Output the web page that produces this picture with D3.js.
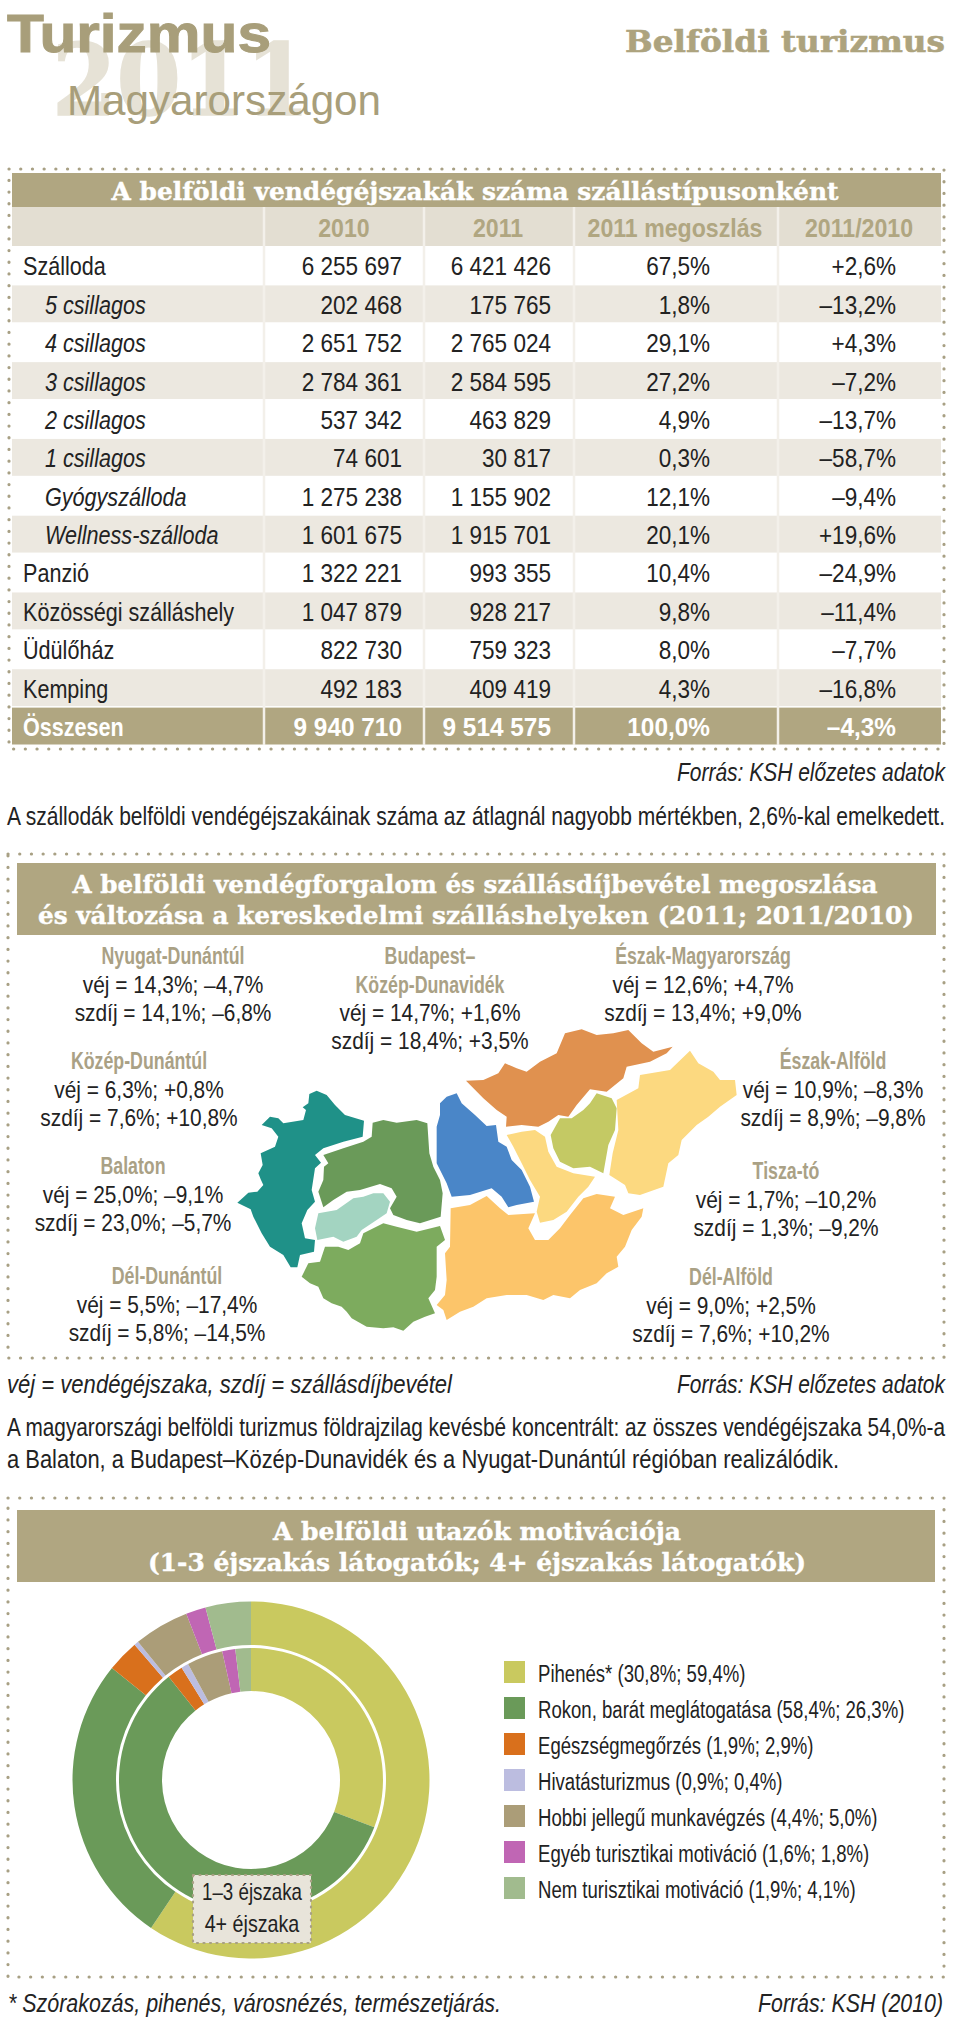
<!DOCTYPE html>
<html>
<head>
<meta charset="utf-8">
<script src="https://cdn.jsdelivr.net/npm/d3@7/dist/d3.min.js"></script>
<style>
  html, body { margin: 0; padding: 0; background: #fff; }
  svg { display: block; }
  text { font-family: "Liberation Sans", sans-serif; }
  .slab { font-family: "DejaVu Serif", serif; font-weight: bold; }
</style>
</head>
<body>
<div id="chart"></div>
<script>
// Table data
const rowLabels = ["Szálloda", "5 csillagos", "4 csillagos", "3 csillagos", "2 csillagos", "1 csillagos", "Gyógyszálloda", "Wellness-szálloda", "Panzió", "Közösségi szálláshely", "Üdülőház", "Kemping", "Összesen"];
const italicRows = ["5 csillagos", "4 csillagos", "3 csillagos", "2 csillagos", "1 csillagos", "Gyógyszálloda", "Wellness-szálloda"];
const columnHeads = ["2010", "2011", "2011 megoszlás", "2011/2010"];
const nights2010 = ["6 255 697", "202 468", "2 651 752", "2 784 361", "537 342", "74 601", "1 275 238", "1 601 675", "1 322 221", "1 047 879", "822 730", "492 183", "9 940 710"];
const nights2011 = ["6 421 426", "175 765", "2 765 024", "2 584 595", "463 829", "30 817", "1 155 902", "1 915 701", "993 355", "928 217", "759 323", "409 419", "9 514 575"];
const share2011 = ["67,5%", "1,8%", "29,1%", "27,2%", "4,9%", "0,3%", "12,1%", "20,1%", "10,4%", "9,8%", "8,0%", "4,3%", "100,0%"];
const change2011 = ["+2,6%", "–13,2%", "+4,3%", "–7,2%", "–13,7%", "–58,7%", "–9,4%", "+19,6%", "–24,9%", "–11,4%", "–7,7%", "–16,8%", "–4,3%"];

// Region texts on the map
const regionNames = ["Nyugat-Dunántúl", "Budapest–|Közép-Dunavidék", "Észak-Magyarország", "Közép-Dunántúl", "Észak-Alföld", "Balaton", "Tisza-tó", "Dél-Dunántúl", "Dél-Alföld"];
const regionVej = ["14,3%; –4,7%", "14,7%; +1,6%", "12,6%; +4,7%", "6,3%; +0,8%", "10,9%; –8,3%", "25,0%; –9,1%", "1,7%; –10,2%", "5,5%; –17,4%", "9,0%; +2,5%"];
const regionSzdij = ["14,1%; –6,8%", "18,4%; +3,5%", "13,4%; +9,0%", "7,6%; +10,8%", "8,9%; –9,8%", "23,0%; –5,7%", "1,3%; –9,2%", "5,8%; –14,5%", "7,6%; +10,2%"];
const regionLabelX = [173, 430, 703, 139, 833, 133, 786, 167, 731];
const regionLabelY = [964, 964, 964, 1069, 1069, 1174, 1179, 1284, 1285];

// Map outlines (map units)
const mapNyugat = [[290,212],[320,225],[345,255],[375,285],[432,302],[428,350],[370,365],[310,385],[285,405],[303,428],[285,445],[275,510],[285,545],[262,570],[245,610],[255,655],[285,660],[282,695],[240,705],[232,742],[212,742],[190,705],[150,680],[125,640],[100,590],[92,568],[72,558],[52,548],[72,530],[85,518],[112,515],[130,495],[122,478],[115,460],[128,435],[122,400],[165,380],[175,350],[155,325],[125,315],[150,290],[175,295],[190,310],[250,300],[258,270],[248,262],[265,250],[268,222]];
const mapKozep = [[458,308],[490,300],[530,308],[590,300],[622,310],[628,400],[640,440],[660,480],[668,520],[662,590],[600,610],[560,600],[520,585],[510,565],[530,530],[515,505],[480,492],[420,510],[380,515],[340,540],[310,562],[295,515],[310,480],[312,440],[325,430],[310,405],[370,385],[430,365],[455,350]];
const mapBalaton = [[460,520],[490,520],[510,545],[500,580],[470,600],[425,630],[410,650],[370,665],[340,650],[292,660],[285,625],[295,580],[350,570],[400,535],[430,530]];
const mapDelDunantul = [[490,610],[530,620],[590,635],[660,618],[675,660],[650,680],[650,770],[645,810],[625,835],[645,880],[615,890],[580,905],[550,932],[520,922],[490,925],[440,920],[395,895],[380,875],[365,860],[335,850],[310,835],[295,800],[270,790],[245,770],[265,730],[300,725],[315,680],[355,680],[385,690],[420,670],[430,640]];
const mapBudapest = [[710,220],[725,250],[765,285],[800,318],[828,315],[835,365],[860,380],[875,420],[905,450],[930,500],[942,545],[890,555],[865,562],[845,530],[815,505],[750,525],[695,530],[680,490],[650,430],[650,320],[660,285],[660,250],[680,230]];
const mapEszakM = [[738,182],[790,180],[835,160],[855,130],[890,145],[920,155],[960,125],[1010,100],[1035,40],[1085,28],[1130,45],[1180,40],[1225,30],[1265,70],[1300,95],[1358,80],[1340,100],[1290,125],[1220,140],[1210,175],[1160,215],[1110,208],[1070,255],[1045,290],[1015,285],[985,305],[955,320],[905,315],[858,320],[860,290],[830,270],[790,235]];
const mapTisza = [[1130,220],[1175,235],[1190,265],[1185,330],[1165,375],[1150,460],[1110,440],[1060,445],[1020,425],[1000,385],[992,345],[1020,295],[1055,295],[1090,270],[1110,250]];
const mapEszakAlfold = [[1410,92],[1435,130],[1480,155],[1500,180],[1545,180],[1550,225],[1500,260],[1465,290],[1430,315],[1385,360],[1375,405],[1345,430],[1330,500],[1260,525],[1225,520],[1215,495],[1168,465],[1178,400],[1195,330],[1190,240],[1255,205],[1260,165],[1350,150]];
const mapSzolnok = [[860,345],[905,335],[945,330],[975,350],[985,395],[1010,440],[1060,460],[1125,470],[1105,500],[1075,530],[1040,575],[1000,600],[960,608],[950,575],[960,530],[930,480],[905,430],[880,380]];
const mapDelAlfold = [[800,528],[840,565],[865,585],[945,580],[925,625],[945,660],[985,660],[1020,625],[1050,585],[1090,535],[1130,522],[1185,530],[1170,565],[1210,585],[1270,565],[1265,590],[1235,630],[1215,680],[1190,710],[1195,740],[1160,760],[1130,790],[1080,810],[1050,835],[1000,825],[970,840],[920,825],[860,825],[800,835],[760,860],[720,875],[680,900],[670,870],[650,855],[675,825],[680,780],[675,700],[690,680],[692,565],[750,555]];
const mapShapes = [mapNyugat, mapKozep, mapBalaton, mapDelDunantul, mapBudapest, mapEszakM, mapTisza, mapEszakAlfold, mapSzolnok, mapDelAlfold];
const mapColors = ["#1f9188", "#6a9a59", "#a3d4c1", "#7dab5e", "#4a86c8", "#e0914f", "#c4c964", "#fcd980", "#fcd980", "#fcc56a"];

// Donut data
const motivations = ["Pihenés*", "Rokon, barát meglátogatása", "Egészségmegőrzés", "Hivatásturizmus", "Hobbi jellegű munkavégzés", "Egyéb turisztikai motiváció", "Nem turisztikai motiváció"];
const short = [30.8, 58.4, 1.9, 0.9, 4.4, 1.6, 1.9];
const long = [59.4, 26.3, 2.9, 0.4, 5.0, 1.8, 4.1];
const motivationColors = ["#c9c95f", "#6a9a59", "#d9701c", "#bcbde0", "#ab9d78", "#c066b4", "#a1bb8e"];

const tan = "#b0a681";
const beige = "#ece8e0";
const headBeige = "#e3ded2";
const ink = "#222";

const svg = d3.select("#chart").append("svg")
    .attr("width", 960)
    .attr("height", 2022);

// Dotted frame around a section
function dottedFrame(x0, y0, x1, y1) {
    svg.append("rect")
        .attr("x", x0).attr("y", y0)
        .attr("width", x1 - x0).attr("height", y1 - y0)
        .attr("fill", "none")
        .attr("stroke", "#a8a084")
        .attr("stroke-width", 3.2)
        .attr("stroke-linecap", "round")
        .attr("stroke-dasharray", "0.1 11.6");
}

// Text helper. The narrow face of the original is not installed,
// so squeeze shrinks the measured length, width pins it outright
function label(x, y, str, opts = {}) {
    const t = svg.append("text")
        .attr("x", x).attr("y", y)
        .attr("text-anchor", opts.anchor || "start")
        .attr("font-size", opts.size || 25)
        .attr("fill", opts.fill || ink)
        .text(str);
    if (opts.italic) t.attr("font-style", "italic");
    if (opts.bold) t.attr("font-weight", "bold");
    if (opts.cls) t.attr("class", opts.cls);
    if (opts.heavy) t.attr("stroke", opts.fill).attr("stroke-width", opts.heavy);
    const len = opts.width || (opts.squeeze ? t.node().getComputedTextLength() * opts.squeeze : 0);
    if (len) t.attr("textLength", len).attr("lengthAdjust", "spacingAndGlyphs");
    return t;
}

// Page heading
label(52, 115, "2011", {size: 100, fill: "#e6e2d6", cls: "slab", width: 258, heavy: 1.5});
label(7, 52, "Turizmus", {size: 54, fill: "#a89e7a", bold: true, width: 264, heavy: 1});
label(67, 115, "Magyarországon", {size: 42, fill: "#a89e7a", width: 314});
label(945, 52, "Belföldi turizmus", {size: 30, fill: "#ada37e", cls: "slab", anchor: "end", width: 320, heavy: 0.6});

// First section: table
dottedFrame(9, 169, 944, 749);
const tableLeft = 12, tableRight = 941;
svg.append("rect").attr("x", tableLeft).attr("y", 173).attr("width", tableRight - tableLeft).attr("height", 34).attr("fill", tan);
svg.append("rect").attr("x", tableLeft).attr("y", 207).attr("width", tableRight - tableLeft).attr("height", 39).attr("fill", headBeige);
label(475, 200, "A belföldi vendégéjszakák száma szállástípusonként", {size: 24, fill: "#fff", cls: "slab", anchor: "middle", width: 727, heavy: 0.4});

const rowScale = d3.scaleBand().domain(rowLabels).range([247, 746]);
const colEdges = [264, 424, 574, 778];
const colRight = [402, 551, 710, 896];
const colHeadX = [344, 498, 675, 859];
const colValues = [nights2010, nights2011, share2011, change2011];

rowLabels.forEach((name, i) => {
    const total = name === "Összesen";
    const y = rowScale(name);
    const h = rowScale.bandwidth();
    svg.append("rect").attr("x", tableLeft).attr("y", y).attr("width", tableRight - tableLeft).attr("height", h - 1.5)
        .attr("fill", total ? tan : (i % 2 ? beige : "#fff"));
    const base = y + h * 0.74;
    const italic = italicRows.includes(name);
    label(italic ? 45 : 23, base, name, {size: 26, italic, bold: total, fill: total ? "#fff" : ink, squeeze: 0.83});
    colValues.forEach((values, c) => {
        label(colRight[c], base, values[i], {size: 26.5, anchor: "end", bold: total, fill: total ? "#fff" : ink, squeeze: total ? 0.92 : 0.85});
    });
});
colEdges.forEach(x => {
    svg.append("line").attr("x1", x).attr("x2", x).attr("y1", 207).attr("y2", 745)
        .attr("stroke", "#f3f0ea").attr("stroke-width", 2.5);
});
columnHeads.forEach((h, c) => {
    label(colHeadX[c], 237, h, {size: 26, bold: true, fill: tan, anchor: "middle", squeeze: 0.89});
});

label(945, 781, "Forrás: KSH előzetes adatok", {size: 25, italic: true, anchor: "end", width: 268});
label(7, 825, "A szállodák belföldi vendégéjszakáinak száma az átlagnál nagyobb mértékben, 2,6%-kal emelkedett.", {size: 25, width: 938});

// Second section: regions
dottedFrame(8, 854, 944, 1358);
svg.append("rect").attr("x", 17).attr("y", 863).attr("width", 919).attr("height", 72).attr("fill", tan);
label(475, 893, "A belföldi vendégforgalom és szállásdíjbevétel megoszlása", {size: 24, fill: "#fff", cls: "slab", anchor: "middle", width: 805, heavy: 0.4});
label(476, 924, "és változása a kereskedelmi szálláshelyeken (2011; 2011/2010)", {size: 24, fill: "#fff", cls: "slab", anchor: "middle", width: 876, heavy: 0.4});

const mapX = d3.scaleLinear().domain([0, 1500]).range([220, 720]);
const mapY = d3.scaleLinear().domain([0, 1020]).range([1020, 1360]);
const mapLine = d3.line().x(d => mapX(d[0])).y(d => mapY(d[1])).curve(d3.curveLinearClosed);
svg.append("g").selectAll("path")
    .data(mapShapes)
    .enter()
    .append("path")
    .attr("d", mapLine)
    .attr("fill", (d, i) => mapColors[i]);

regionNames.forEach((name, i) => {
    const x = regionLabelX[i];
    let y = regionLabelY[i];
    name.split("|").forEach(part => {
        label(x, y, part, {size: 24, bold: true, fill: "#aaa185", anchor: "middle", squeeze: 0.74});
        y += 28.5;
    });
    label(x, y, "véj = " + regionVej[i], {size: 24, anchor: "middle", squeeze: 0.87});
    label(x, y + 28.3, "szdíj = " + regionSzdij[i], {size: 24, anchor: "middle", squeeze: 0.87});
});

label(7, 1393, "véj = vendégéjszaka, szdíj = szállásdíjbevétel", {size: 25, italic: true, width: 445});
label(945, 1393, "Forrás: KSH előzetes adatok", {size: 25, italic: true, anchor: "end", width: 268});
label(7, 1436, "A magyarországi belföldi turizmus földrajzilag kevésbé koncentrált: az összes vendégéjszaka 54,0%-a", {size: 25, width: 938});
label(7, 1468, "a Balaton, a Budapest–Közép-Dunavidék és a Nyugat-Dunántúl régióban realizálódik.", {size: 25, width: 832});

// Third section: donut
dottedFrame(8, 1498, 944, 1977);
svg.append("rect").attr("x", 17).attr("y", 1510).attr("width", 918).attr("height", 72).attr("fill", tan);
label(477, 1540, "A belföldi utazók motivációja", {size: 24, fill: "#fff", cls: "slab", anchor: "middle", width: 408, heavy: 0.4});
label(477, 1571, "(1-3 éjszakás látogatók; 4+ éjszakás látogatók)", {size: 24, fill: "#fff", cls: "slab", anchor: "middle", width: 658, heavy: 0.4});

const pie = d3.pie().sort(null);
const donut = svg.append("g").attr("transform", "translate(251,1780)");
const innerArc = d3.arc().innerRadius(89).outerRadius(132);
const outerArc = d3.arc().innerRadius(135).outerRadius(178.5);
donut.selectAll("path.outer")
    .data(pie(long))
    .enter()
    .append("path")
    .attr("class", "outer")
    .attr("d", outerArc)
    .attr("fill", (d, i) => motivationColors[i]);
donut.selectAll("path.inner")
    .data(pie(short))
    .enter()
    .append("path")
    .attr("class", "inner")
    .attr("d", innerArc)
    .attr("fill", (d, i) => motivationColors[i]);

// Small key on the donut
svg.append("rect")
    .attr("x", 193).attr("y", 1875).attr("width", 118).attr("height", 68)
    .attr("fill", "#e8e4da")
    .attr("stroke", "#a8a084").attr("stroke-width", 2.2)
    .attr("stroke-dasharray", "1 5.5").attr("stroke-linecap", "round");
label(252, 1900, "1–3 éjszaka", {size: 24, anchor: "middle", squeeze: 0.78});
label(252, 1932, "4+ éjszaka", {size: 24, anchor: "middle", squeeze: 0.82});

// Legend
const legendY = d3.scalePoint().domain(motivations).range([1672, 1888]);
motivations.forEach((m, i) => {
    const y = legendY(m);
    svg.append("rect").attr("x", 504).attr("y", y - 11).attr("width", 21).attr("height", 22).attr("fill", motivationColors[i]);
    const fmt = v => v.toFixed(1).replace(".", ",") + "%";
    label(538, y + 10, `${m} (${fmt(short[i])}; ${fmt(long[i])})`, {size: 23.5, squeeze: 0.79});
});

label(8, 2012, "* Szórakozás, pihenés, városnézés, természetjárás.", {size: 26, italic: true, width: 493});
label(943, 2012, "Forrás: KSH (2010)", {size: 26, italic: true, anchor: "end", width: 185});
</script>
</body>
</html>
